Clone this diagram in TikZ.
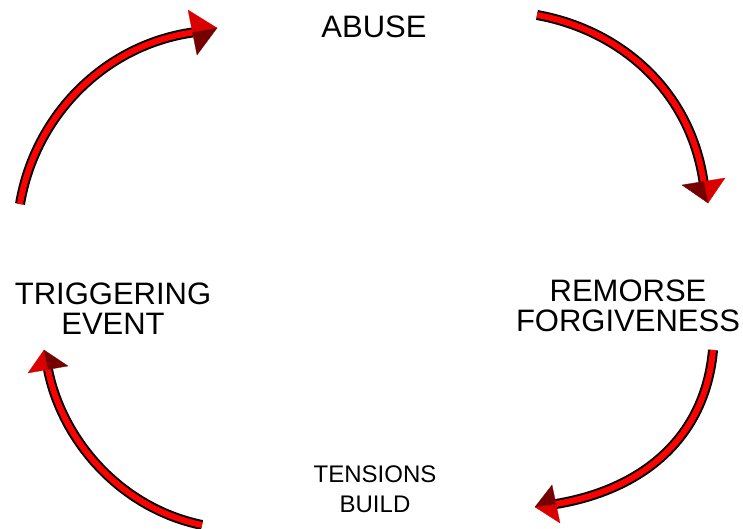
\documentclass[tikz,border=0pt]{standalone}
\usepackage{fontspec}
\setmainfont{Liberation Sans}
\definecolor{shaftred}{RGB}{255,0,0}
\definecolor{headlight}{RGB}{218,0,0}
\definecolor{headdark}{RGB}{118,0,0}
\tikzset{
  lbl/.style={inner sep=0pt, align=center, anchor=north, font=\fontsize{31bp}{30bp}\selectfont},
  lblsmall/.style={inner sep=0pt, align=center, anchor=north, font=\fontsize{24bp}{30bp}\selectfont},
  shaftout/.style={draw=black, line width=10bp},
  shaftin/.style={draw=shaftred, line width=6bp},
  hlight/.style={fill=headlight, draw=headlight, line width=0.3bp},
  hdark/.style={fill=headdark, draw=headdark, line width=0.3bp}
}
\begin{document}
\begin{tikzpicture}[x=1bp, y=-1bp]
\useasboundingbox (0,0) rectangle (743,529);
\fill[white] (0,0) rectangle (743,529);

% labels
\node[lbl] (abuse) at (374,15.5) {ABUSE};
\node[lbl] (trigger) at (113,282.5) {TRIGGERING\\EVENT};
\node[lbl] (remorse) at (628,279.5) {REMORSE\\FORGIVENESS};
\node[lblsmall] (tension) at (375,465.5) {TENSIONS\\BUILD};

% arrow coordinates
\coordinate (s1) at (20,204);  \coordinate (m1) at (192.5,32.5);
\coordinate (t1) at (217,28);  \coordinate (a1) at (188,10);  \coordinate (b1) at (197,55);
\coordinate (s2) at (537,15);  \coordinate (m2) at (703.5,181.5);
\coordinate (t2) at (708,203); \coordinate (a2) at (725,178); \coordinate (b2) at (682,185);
\coordinate (s3) at (713,350); \coordinate (m3) at (556,504);
\coordinate (t3) at (535,507); \coordinate (a3) at (560,523); \coordinate (b3) at (552,485);
\coordinate (s4) at (202,525); \coordinate (m4) at (48,369.5);
\coordinate (t4) at (44,350);  \coordinate (a4) at (28,373);  \coordinate (b4) at (68,366);

% shafts
\draw[shaftout] (s1) .. controls (35,115) and (105,45) .. (m1);
\draw[shaftin]  (s1) .. controls (35,115) and (105,45) .. (m1);
\draw[shaftout] (s2) .. controls (620,30) and (690,90) .. (m2);
\draw[shaftin]  (s2) .. controls (620,30) and (690,90) .. (m2);
\draw[shaftout] (s3) .. controls (705,440) and (640,490) .. (m3);
\draw[shaftin]  (s3) .. controls (705,440) and (640,490) .. (m3);
\draw[shaftout] (s4) .. controls (120,508) and (62,440) .. (m4);
\draw[shaftin]  (s4) .. controls (120,508) and (62,440) .. (m4);

% heads
\filldraw[hlight] (t1) -- (a1) -- (m1) -- cycle;
\filldraw[hdark]  (t1) -- (m1) -- (b1) -- cycle;
\filldraw[hlight] (t2) -- (a2) -- (m2) -- cycle;
\filldraw[hdark]  (t2) -- (m2) -- (b2) -- cycle;
\filldraw[hlight] (t3) -- (a3) -- (m3) -- cycle;
\filldraw[hdark]  (t3) -- (m3) -- (b3) -- cycle;
\filldraw[hlight] (t4) -- (a4) -- (m4) -- cycle;
\filldraw[hdark]  (t4) -- (m4) -- (b4) -- cycle;
\end{tikzpicture}
\end{document}
